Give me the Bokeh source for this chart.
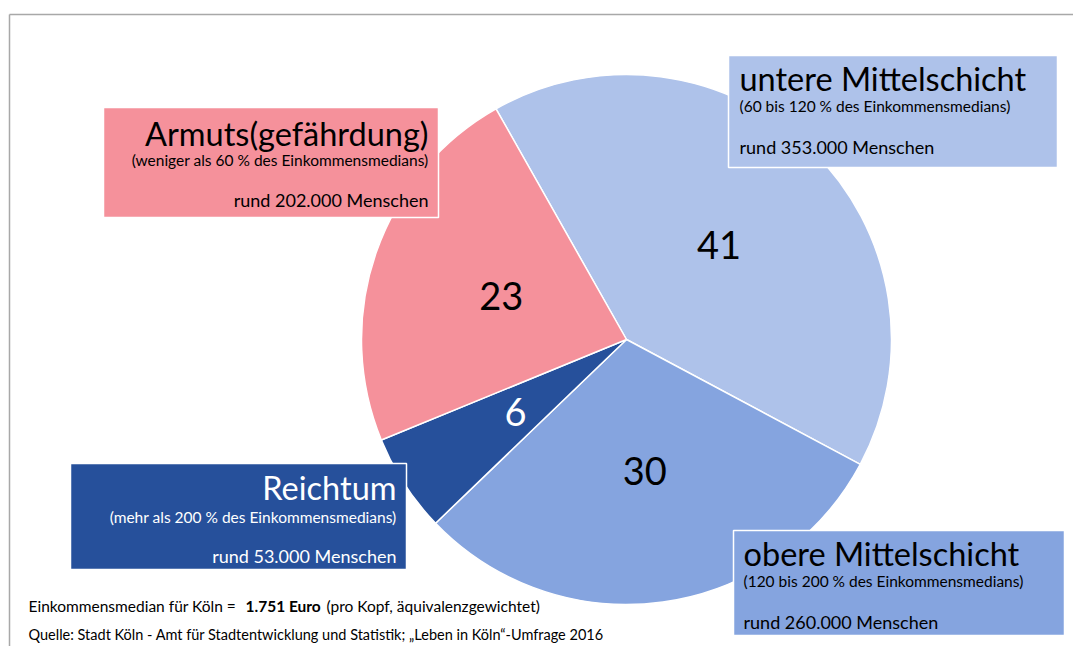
import numpy as np
from bokeh.plotting import figure
from bokeh.models import Range1d, ColumnDataSource
from bokeh.core.properties import value
from bokeh.embed import file_html
from bokeh.resources import INLINE

# ---- data ----
categories = ["untere Mittelschicht", "obere Mittelschicht", "Reichtum", "Armuts(gefährdung)"]
shares = [41, 30, 6, 23]
ranges_txt = ["(60 bis 120 % des Einkommensmedians)",
              "(120 bis 200 % des Einkommensmedians)",
              "(mehr als 200 % des Einkommensmedians)",
              "(weniger als 60 % des Einkommensmedians)"]
people = ["rund 353.000 Menschen", "rund 260.000 Menschen",
          "rund 53.000 Menschen", "rund 202.000 Menschen"]
colors = ["#AEC2EA", "#85A4DF", "#26509B", "#F5919B"]
label_colors = ["black", "black", "white", "black"]

W, H = 1073, 646
FONT = "Lato"

def X(rx):
    return rx

def Y(ry):
    return H - ry

p = figure(width=W, height=H, x_range=Range1d(0, W), y_range=Range1d(0, H),
           output_backend="svg", toolbar_location=None, min_border=0)
p.axis.visible = False
p.grid.visible = False
p.outline_line_color = None
p.background_fill_color = "white"
p.border_fill_color = "white"

# frame lines
p.line([X(9), X(1073)], [Y(14), Y(14)], line_color="#A8A8A8", line_width=1.5)
p.line([X(9), X(9)], [Y(14), Y(660)], line_color="#A8A8A8", line_width=1.5)

# pie
cx, cy, r = X(626), Y(339), 265
frac = np.array(shares, dtype=float) / sum(shares)
a0 = np.deg2rad(119.5)
before = np.concatenate([[0], np.cumsum(frac)[:-1]])
start = a0 - before * 2 * np.pi
end = start - frac * 2 * np.pi
mid = (start + end) / 2
src = ColumnDataSource(dict(start=start, end=end, color=colors,
                            lx=cx + 0.5 * r * np.cos(mid), ly=cy + 0.5 * r * np.sin(mid),
                            lab=[str(s) for s in shares], lc=label_colors))
p.wedge(x=cx, y=cy, radius=r, start_angle="start", end_angle="end", direction="clock",
        fill_color="color", line_color="white", line_width=1.5, source=src)
p.text(x="lx", y="ly", text="lab", text_color="lc", source=src, text_align="center",
       text_baseline="middle", text_font=value(FONT), text_font_size="38px")

# boxes: (left, right, top, bottom, align, text x, title y, sub y, people y)
boxes = [
    (728, 1057, 55, 167, "left", 739, 78, 105, 146),
    (733, 1064, 530, 635, "left", 743, 553, 580, 621),
    (70, 406, 463, 569, "right", 396, 487, 516, 555),
    (103, 438, 107, 217, "right", 428, 133, 159, 199),
]
for i, (l, rr, t, b, al, tx, ty, sy, py) in enumerate(boxes):
    p.quad(left=X(l), right=X(rr), top=Y(t), bottom=Y(b), fill_color=colors[i],
           line_color="white", line_width=1.5)
    tc = label_colors[i]
    p.text(x=[X(tx)], y=[Y(ty)], text=[categories[i]], text_color=tc, text_align=al,
           text_baseline="middle", text_font=value(FONT), text_font_size="32.5px")
    p.text(x=[X(tx)], y=[Y(sy)], text=[ranges_txt[i]], text_color=tc, text_align=al,
           text_baseline="middle", text_font=value(FONT), text_font_size="15.5px")
    p.text(x=[X(tx)], y=[Y(py)], text=[people[i]], text_color=tc, text_align=al,
           text_baseline="middle", text_font=value(FONT), text_font_size="18px")

# footer
foot_parts = ["Einkommensmedian für Köln =", "1.751 Euro", "(pro Kopf, äquivalenzgewichtet)"]
foot_x = [28, 245, 326]
foot_w = ["normal", "bold", "normal"]
for t, fx, fw in zip(foot_parts, foot_x, foot_w):
    p.text(x=[X(fx)], y=[Y(605)], text=[t], text_color="black", text_align="left",
           text_baseline="middle", text_font=value(FONT), text_font_size="15.5px",
           text_font_style=fw)
source_txt = "Quelle: Stadt Köln - Amt für Stadtentwicklung und Statistik; „Leben in Köln“-Umfrage 2016"
p.text(x=[X(28)], y=[Y(634)], text=[source_txt], text_color="black", text_align="left",
       text_baseline="middle", text_font=value(FONT), text_font_size="14.5px")

open("out.html", "w").write(file_html(p, INLINE))
